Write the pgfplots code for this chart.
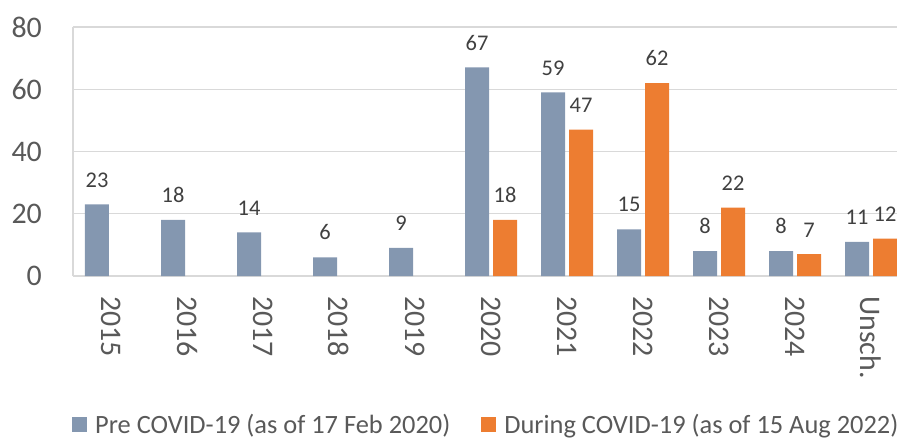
\documentclass[border=0pt]{standalone}
\usepackage{fontspec}
\setmainfont{Carlito}
\usepackage{pgfplots}
\pgfplotsset{compat=1.18}
\definecolor{cblue}{HTML}{8497B0}
\definecolor{corange}{HTML}{ED7D31}
\definecolor{ctext}{HTML}{595959}
\definecolor{clabel}{HTML}{404040}
\definecolor{cgrid}{HTML}{D9D9D9}
\begin{document}
\begin{tikzpicture}
\begin{axis}[
  at={(0,0)}, anchor=south west,
  scale only axis, width=836bp, height=249bp,
  xmin=-0.5, xmax=10.5, ymin=0, ymax=80,
  /pgf/number format/assume math mode=true,
  ytick={0,20,40,60,80},
  xtick={0,1,2,3,4,5,6,7,8,9,10},
  xticklabels={2015,2016,2017,2018,2019,2020,2021,2022,2023,2024,Unsch.},
  ymajorgrids, grid style={cgrid, line width=1.3bp},
  axis x line*=bottom, axis y line*=left,
  axis line style={cgrid, line width=1.3bp},
  major tick length=0pt,
  yticklabel style={font=\fontsize{30}{30}\selectfont, text=ctext, inner sep=0pt, anchor=east, xshift=-31bp},
  xticklabel style={font=\fontsize{30}{30}\selectfont, text=ctext, rotate=-90, anchor=west, inner xsep=20bp, inner ysep=0pt},
  ybar, bar width=24bp,
  nodes near coords,
  every node near coord/.append style={font=\fontsize{22.5}{22.5}\selectfont, text=clabel, inner sep=0pt, anchor=south, yshift=17bp},
  legend columns=2,
  legend style={at={(-0.0012,-0.598)}, anchor=west, draw=none, fill=none, inner sep=0pt,
    nodes={inner sep=0pt},
    font=\fontsize{26.5}{26.5}\selectfont, text=ctext,
    /tikz/every even column/.append style={column sep=31bp},
    /tikz/every odd column/.append style={column sep=8bp}},
  legend image code/.code={\fill[#1] (0bp,-7.5bp) rectangle (15bp,7.5bp);},
  clip=false,
]
\addplot[fill=cblue, draw=none, bar shift=-14bp] coordinates {
  (0,23) (1,18) (2,14) (3,6) (4,9) (5,67) (6,59) (7,15) (8,8) (9,8) (10,11)};
\addlegendentry{Pre COVID-19 (as of 17 Feb 2020)}
\addplot[fill=corange, draw=none, bar shift=14bp] coordinates {
  (5,18) (6,47) (7,62) (8,22) (9,7) (10,12)};
\addlegendentry{During COVID-19 (as of 15 Aug 2022)}
\end{axis}
\pgfresetboundingbox
\useasboundingbox (-73bp,-163bp) rectangle (824bp,276bp);
\end{tikzpicture}
\end{document}
